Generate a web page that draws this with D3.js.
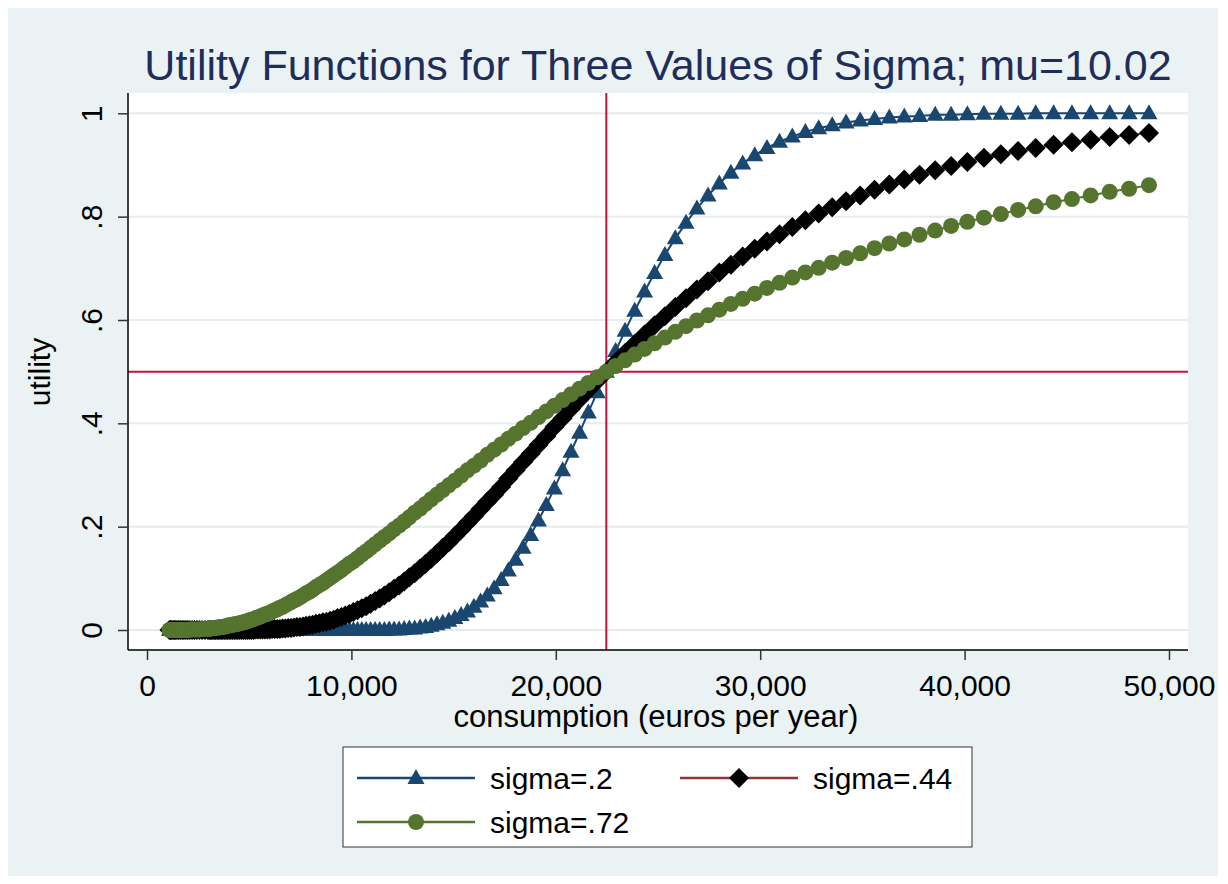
<!DOCTYPE html>
<html>
<head>
<meta charset="utf-8">
<script src="https://cdn.jsdelivr.net/npm/d3@7"></script>
<style>
  body { margin: 0; background: #ffffff; }
  svg { display: block; font-family: "Liberation Sans", Arial, Helvetica, sans-serif; }
</style>
</head>
<body>
<div id="chart"></div>
<script>
// consumption (euros per year), shared by all three series
var consumption = [
  1097, 1153, 1212, 1274, 1339, 1408, 1480, 1556, 1636, 1720,
  1808, 1901, 1998, 2101, 2208, 2322, 2441, 2566, 2697, 2836,
  2981, 3041, 3103, 3165, 3229, 3294, 3361, 3429, 3498, 3569,
  3641, 3715, 3790, 3866, 3944, 4024, 4105, 4188, 4273, 4359,
  4447, 4537, 4629, 4722, 4818, 4915, 5014, 5115, 5219, 5324,
  5432, 5541, 5653, 5768, 5884, 6003, 6124, 6248, 6374, 6503,
  6634, 6768, 6905, 7045, 7187, 7332, 7480, 7631, 7785, 7943,
  8103, 8267, 8434, 8604, 8778, 8955, 9136, 9321, 9509, 9701,
  9897, 10097, 10301, 10509, 10721, 10938, 11159, 11384, 11614, 11849,
  12088, 12333, 12582, 12836, 13095, 13360, 13630, 13905, 14186, 14472,
  14765, 15063, 15367, 15678, 15995, 16318, 16647, 16984, 17327, 17677,
  18034, 18398, 18770, 19149, 19536, 19930, 20333, 20744, 21163, 21590,
  22026, 22472, 22926, 23389, 23861, 24343, 24835, 25337, 25848, 26371,
  26903, 27447, 28001, 28567, 29144, 29733, 30333, 30946, 31571, 32209,
  32860, 33523, 34201, 34892, 35596, 36316, 37049, 37798, 38561, 39340,
  40135, 40946, 41773, 42617, 43478, 44356, 45252, 46166, 47099, 48050,
  49021
];

var utilSigma20 = [
  0, 0, 0, 0, 0, 0, 0, 0, 0, 0,
  0, 0, 0, 0, 0, 0, 0, 0, 0, 0,
  0, 0, 0, 0, 0, 0, 0, 0, 0, 0,
  0, 0, 0, 0, 0, 0, 0, 0, 0, 0,
  0, 0, 0, 0, 0, 0, 0, 0, 0, 0,
  0, 0, 0, 0, 0, 0, 0, 0, 0, 0,
  0, 0, 0, 0, 0, 0, 0, 0, 0, 0,
  0, 0, 0, 0, 0, 0, 0, 0, 0, 0,
  0, 0, 0, 0, 0, 0, 0, 0, 0, .001,
  .001, .001, .002, .003, .003, .005, .006, .008, .011, .014,
  .018, .023, .029, .036, .045, .055, .067, .081, .097, .115,
  .136, .159, .184, .212, .242, .274, .309, .345, .382, .421,
  .460, .500, .540, .579, .618, .655, .691, .726, .758, .788,
  .816, .841, .864, .885, .903, .919, .933, .945, .955, .964,
  .971, .977, .982, .986, .989, .992, .994, .995, .997, .997,
  .998, .999, .999, .999, 1, 1, 1, 1, 1, 1,
  1
];

var utilSigma44 = [
  0, 0, 0, 0, 0, 0, 0, 0, 0, 0,
  0, 0, 0, 0, 0, 0, 0, 0, 0, 0,
  0, 0, 0, 0, 0, 0, 0, 0, 0, 0,
  0, 0, 0, 0, 0, 0, 0, 0, 0, 0,
  0, 0, 0, 0, 0, 0, 0, 0, 0, .001,
  .001, .001, .001, .001, .001, .001, .002, .002, .002, .002,
  .003, .003, .004, .004, .005, .006, .006, .007, .008, .009,
  .010, .012, .013, .015, .016, .018, .020, .023, .025, .028,
  .031, .035, .038, .042, .046, .051, .056, .061, .067, .073,
  .080, .086, .094, .102, .110, .119, .128, .138, .148, .159,
  .170, .182, .194, .207, .220, .234, .248, .262, .277, .293,
  .309, .325, .341, .358, .375, .393, .410, .428, .446, .464,
  .482, .500, .518, .536, .554, .572, .590, .607, .625, .642,
  .659, .675, .692, .707, .723, .738, .752, .766, .780, .793,
  .806, .818, .830, .841, .852, .862, .872, .881, .890, .898,
  .906, .914, .921, .927, .933, .939, .944, .949, .954, .958,
  .962
];

var utilSigma72 = [
  0, 0, 0, 0, 0, 0, 0, 0, 0, 0,
  0, 0, 0, .001, .001, .001, .001, .001, .002, .002,
  .002, .003, .003, .003, .004, .004, .004, .005, .005, .005,
  .006, .006, .007, .007, .008, .009, .009, .010, .011, .011,
  .012, .013, .014, .015, .016, .017, .019, .020, .021, .023,
  .024, .026, .028, .030, .031, .033, .036, .038, .040, .043,
  .045, .048, .051, .054, .057, .060, .063, .067, .071, .074,
  .078, .083, .087, .091, .096, .101, .106, .111, .116, .122,
  .128, .133, .139, .146, .152, .159, .166, .173, .180, .187,
  .195, .202, .210, .218, .227, .235, .244, .253, .262, .271,
  .280, .289, .299, .309, .318, .328, .339, .349, .359, .370,
  .380, .391, .401, .412, .423, .434, .445, .456, .467, .478,
  .489, .500, .511, .522, .533, .544, .555, .566, .577, .588,
  .599, .609, .620, .631, .641, .651, .662, .672, .682, .692,
  .701, .711, .720, .729, .739, .748, .756, .765, .773, .782,
  .790, .798, .805, .813, .820, .828, .834, .841, .848, .854,
  .861
];

var seriesNames = ["sigma=.2", "sigma=.44", "sigma=.72"];
var xTicks = [0, 10000, 20000, 30000, 40000, 50000];
var yTicks = [0, .2, .4, .6, .8, 1];
var yTickLabels = ["0", ".2", ".4", ".6", ".8", "1"];
var medianConsumption = 22471;   // exp(10.02)
var medianUtility = 0.5;

var W = 1228, H = 884;
var plot = {left: 128, right: 1188, top: 93, bottom: 650};

var x = d3.scaleLinear().domain([-930, 50930]).range([plot.left, plot.right]);
var y = d3.scaleLinear().domain([-0.0387, 1.0393]).range([plot.bottom, plot.top]);

var svg = d3.select("#chart").append("svg")
    .attr("width", W)
    .attr("height", H);

// graph region
svg.append("rect")
    .attr("x", 8).attr("y", 8)
    .attr("width", 1210).attr("height", 868)
    .attr("fill", "#eaf2f3");

// plot region
svg.append("rect")
    .attr("x", plot.left).attr("y", plot.top)
    .attr("width", plot.right - plot.left).attr("height", plot.bottom - plot.top)
    .attr("fill", "#ffffff");

// grid lines
svg.append("g").selectAll("line")
    .data(yTicks)
    .enter().append("line")
        .attr("x1", plot.left).attr("x2", plot.right)
        .attr("y1", function(d){ return y(d); })
        .attr("y2", function(d){ return y(d); })
        .attr("stroke", "#e4eced")
        .attr("stroke-width", 2);

// reference lines at the median
svg.append("line")
    .attr("x1", x(medianConsumption)).attr("x2", x(medianConsumption))
    .attr("y1", plot.top).attr("y2", plot.bottom)
    .attr("stroke", "#c8113d").attr("stroke-width", 2);
svg.append("line")
    .attr("x1", plot.left).attr("x2", plot.right)
    .attr("y1", y(medianUtility)).attr("y2", y(medianUtility))
    .attr("stroke", "#c8113d").attr("stroke-width", 2);

// marker shapes
var markers = {
    triangle: "M0,-9L8.5,6L-8.5,6Z",
    diamond: "M0,-10L10,0L0,10L-10,0Z",
    circle: "M8,0A8,8 0 1,1 -8,0A8,8 0 1,1 8,0Z"
};

var series = [
    {name: seriesNames[0], values: utilSigma20, line: "#1a476f", fill: "#1a476f", marker: "triangle"},
    {name: seriesNames[1], values: utilSigma44, line: "#90353b", fill: "#000000", marker: "diamond"},
    {name: seriesNames[2], values: utilSigma72, line: "#55752f", fill: "#55752f", marker: "circle"}
];

var line = d3.line()
    .x(function(d){ return x(d[0]); })
    .y(function(d){ return y(d[1]); });

series.forEach(function(s){
    var pts = consumption.map(function(c, i){ return [c, s.values[i]]; });
    var g = svg.append("g").attr("class", "series");
    g.append("path")
        .attr("d", line(pts))
        .attr("fill", "none")
        .attr("stroke", s.line)
        .attr("stroke-width", 2);
    g.selectAll(".mk")
        .data(pts)
        .enter().append("path")
            .attr("class", "mk")
            .attr("d", markers[s.marker])
            .attr("transform", function(d){ return "translate(" + x(d[0]) + "," + y(d[1]) + ")"; })
            .attr("fill", s.fill);
});

// axes
var yAxis = svg.append("g")
    .attr("transform", "translate(" + plot.left + ",0)")
    .call(d3.axisLeft(y).tickValues(yTicks).tickSize(10).tickFormat(function(d, i){ return yTickLabels[i]; }));
yAxis.select(".domain").attr("stroke", "#000").attr("stroke-width", 1.5)
    .attr("d", "M0," + plot.top + "V" + plot.bottom);
yAxis.selectAll(".tick line").attr("stroke", "#333").attr("stroke-width", 1.5);
yAxis.selectAll(".tick text")
    .attr("x", null).attr("dy", null).attr("y", null)
    .attr("transform", "translate(-26,0) rotate(-90)")
    .attr("text-anchor", "middle")
    .attr("font-size", 30)
    .attr("font-family", null)
    .attr("fill", "#000");

var xAxis = svg.append("g")
    .attr("transform", "translate(0," + plot.bottom + ")")
    .call(d3.axisBottom(x).tickValues(xTicks).tickSize(10).tickFormat(d3.format(",")));
xAxis.select(".domain").attr("stroke", "#000").attr("stroke-width", 1.5)
    .attr("d", "M" + plot.left + ",0H" + plot.right);
xAxis.selectAll(".tick line").attr("stroke", "#333").attr("stroke-width", 1.5);
xAxis.selectAll(".tick text")
    .attr("y", 46).attr("dy", null)
    .attr("font-size", 30)
    .attr("font-family", null)
    .attr("fill", "#000");

// titles
svg.append("text")
    .attr("x", 658).attr("y", 80)
    .attr("text-anchor", "middle")
    .attr("font-size", 43)
    .attr("fill", "#1f2d5b")
    .text("Utility Functions for Three Values of Sigma; mu=10.02");

svg.append("text")
    .attr("x", 656).attr("y", 727)
    .attr("text-anchor", "middle")
    .attr("font-size", 31)
    .attr("fill", "#000")
    .text("consumption (euros per year)");

svg.append("text")
    .attr("transform", "translate(50,372) rotate(-90)")
    .attr("text-anchor", "middle")
    .attr("font-size", 30)
    .attr("fill", "#000")
    .text("utility");

// legend
var legend = svg.append("g");
legend.append("rect")
    .attr("x", 343).attr("y", 747)
    .attr("width", 629).attr("height", 100)
    .attr("fill", "#fff")
    .attr("stroke", "#333").attr("stroke-width", 1);

var legendPos = [[357, 778], [680, 778], [357, 822]];
series.forEach(function(s, i){
    var p = legendPos[i];
    var lg = legend.append("g").attr("transform", "translate(" + p[0] + "," + p[1] + ")");
    lg.append("line")
        .attr("x1", 0).attr("x2", 118)
        .attr("stroke", s.line).attr("stroke-width", 2.5);
    lg.append("path")
        .attr("d", markers[s.marker])
        .attr("transform", "translate(59,0)")
        .attr("fill", s.fill);
    lg.append("text")
        .attr("x", 133).attr("y", 11)
        .attr("font-size", 30)
        .attr("fill", "#000")
        .text(s.name);
});
</script>
</body>
</html>
